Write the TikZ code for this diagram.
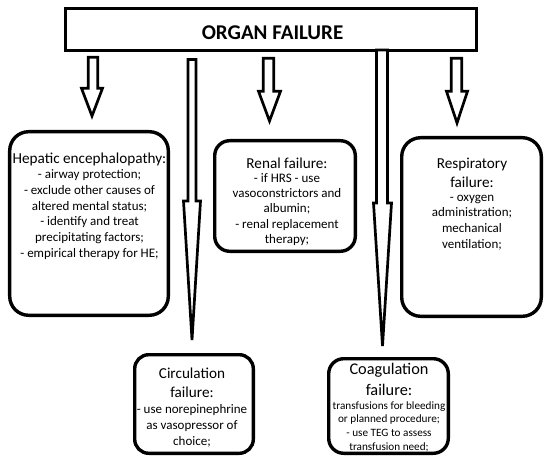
\documentclass[tikz,border=0pt]{standalone}
\usepackage{fontspec}
\setmainfont{Carlito}
\newcommand{\blkarrow}[7]{\draw[blockarrow] (#1,#3) -- (#1,#4) -- (#5,#4) -- ({(#5+#6)/2},#7) -- (#6,#4) -- (#2,#4) -- (#2,#3) -- cycle;}
\begin{document}
\begin{tikzpicture}[x=1bp,y=-1bp,
  box/.style={draw, line width=3.4bp, rounded corners=#1, inner sep=0pt},
  topbox/.style={draw, line width=3.3bp, inner sep=0pt},
  blockarrow/.style={draw, line width=2.7bp, fill=white, line join=miter},
  ttl/.style={font=\fontsize{15.2bp}{19bp}\selectfont, align=center, inner sep=0pt},
  bdy/.style={font=\fontsize{13bp}{15.8bp}\selectfont, align=center, inner sep=0pt}]
\useasboundingbox (0,0) rectangle (550,461);
% top box
\node[topbox, minimum width=410.7bp, minimum height=41.7bp] (top) at (271,29.5) {};
\node[font=\bfseries\fontsize{21bp}{25bp}\selectfont, inner sep=0pt] (toptext) at (272.5,33) {ORGAN FAILURE};
% boxes
\node[box=19bp, minimum width=158.6bp, minimum height=183.6bp] (he) at (89,223.5) {};
\node[box=15bp, minimum width=140.6bp, minimum height=110.6bp] (re) at (285,196) {};
\node[box=19bp, minimum width=139.6bp, minimum height=178.6bp] (rs) at (471.5,227) {};
\node[box=14bp, minimum width=118.6bp, minimum height=98.6bp] (ci) at (194,404) {};
\node[box=15bp, minimum width=119.6bp, minimum height=94.6bp] (co) at (388.5,406) {};
% arrows
\blkarrow{88.3}{97.7}{57.3}{88.3}{81.5}{102.5}{116}
\blkarrow{263.3}{273.7}{58.3}{91.3}{258.5}{280.5}{121}
\blkarrow{451.3}{461.7}{58.3}{91.3}{446.5}{467.5}{123}
\blkarrow{188}{196}{59.5}{201}{183.5}{200.5}{340}
\blkarrow{376.5}{387.5}{50}{203}{373.5}{391.5}{346}
% texts
\node[ttl] (het) at (89.5,159) {Hepatic encephalopathy:};
\node[bdy] (heb) at (89.5,214.5) {- airway protection;\\- exclude other causes of\\altered mental status;\\- identify and treat\\precipitating factors;\\- empirical therapy for HE;};
\node[ttl] (ret) at (287,163) {Renal failure:};
\node[bdy, font=\fontsize{13bp}{15.3bp}\selectfont] (reb) at (287,209.5) {- if HRS - use\\vasoconstrictors and\\albumin;\\- renal replacement\\therapy;};
\node[ttl] (rst) at (472,172.5) {Respiratory\\failure:};
\node[bdy, font=\fontsize{13bp}{15.7bp}\selectfont] (rsb) at (472,222.5) {- oxygen\\administration;\\mechanical\\ventilation;};
\node[ttl] (cit) at (192,382.5) {Circulation\\failure:};
\node[bdy, font=\fontsize{13bp}{16bp}\selectfont] (cib) at (192,426) {- use norepinephrine\\as vasopressor of\\choice;};
\node[ttl, font=\fontsize{16.3bp}{21bp}\selectfont] (cot) at (389,379.5) {Coagulation\\failure:};
\node[bdy, font=\fontsize{11.2bp}{13.7bp}\selectfont] (cob) at (389,426.5) {transfusions for bleeding\\or planned procedure;\\- use TEG to assess\\transfusion need;};
\end{tikzpicture}
\end{document}
